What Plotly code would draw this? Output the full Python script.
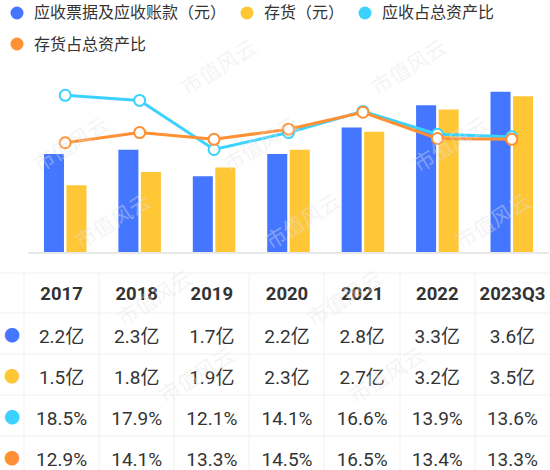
import plotly.graph_objects as go

categories = ["2017", "2018", "2019", "2020", "2021", "2022", "2023Q3"]
receivables = [2.2, 2.3, 1.7, 2.2, 2.8, 3.3, 3.6]      # 亿元
inventory = [1.5, 1.8, 1.9, 2.3, 2.7, 3.2, 3.5]        # 亿元
recv_ratio = [18.5, 17.9, 12.1, 14.1, 16.6, 13.9, 13.6]  # %
inv_ratio = [12.9, 14.1, 13.3, 14.5, 16.5, 13.4, 13.3]   # %

series_names = ["应收票据及应收账款（元）", "存货（元）", "应收占总资产比", "存货占总资产比"]
colors = ["#4576FF", "#FFC636", "#3CD2FF", "#FF9034"]
watermark = "市值风云"

W, H = 550, 470
FONT = "Roboto, 'Noto Sans CJK SC', sans-serif"
GRID = "#F0F0F0"

def py(px):  # pixel y (from top) to paper fraction
    return (H - px) / H

def px_(x):
    return x / W

fig = go.Figure()

fig.add_trace(go.Bar(x=categories, y=receivables, marker=dict(color=colors[0], line_width=0),
                     name=series_names[0], showlegend=False, hoverinfo="skip"))
fig.add_trace(go.Bar(x=categories, y=inventory, marker=dict(color=colors[1], line_width=0),
                     name=series_names[1], showlegend=False, hoverinfo="skip"))
fig.add_trace(go.Scatter(x=categories, y=recv_ratio, yaxis="y2", mode="lines+markers",
                         line=dict(color=colors[2], width=3),
                         marker=dict(size=11, color="white", line=dict(color=colors[2], width=2)),
                         name=series_names[2], showlegend=False, hoverinfo="skip"))
fig.add_trace(go.Scatter(x=categories, y=inv_ratio, yaxis="y2", mode="lines+markers",
                         line=dict(color=colors[3], width=3),
                         marker=dict(size=11, color="white", line=dict(color=colors[3], width=2)),
                         name=series_names[3], showlegend=False, hoverinfo="skip"))

# Table
def fmt_yi(v):
    return f"{v:.1f}亿"

def fmt_pct(v):
    return f"{v:.1f}%"

cols = [["●"] * 4]
for i in range(len(categories)):
    cols.append([fmt_yi(receivables[i]), fmt_yi(inventory[i]), fmt_pct(recv_ratio[i]), fmt_pct(inv_ratio[i])])

font_colors = [colors] + [["#333333"] * 4 for _ in categories]
font_sizes = [16] + [19] * len(categories)

TABLE_TOP = 275
fig.add_trace(go.Table(
    domain=dict(x=[0, 1], y=[0, py(TABLE_TOP)]),
    columnwidth=[24] + [75.14] * len(categories),
    header=dict(values=[""] + [f"<b>{c}</b>" for c in categories],
                height=46, align="center",
                fill_color="rgba(0,0,0,0)", line=dict(color="rgba(0,0,0,0)", width=0),
                font=dict(family=FONT, size=18.5, color="#333333")),
    cells=dict(values=cols, height=41, align="center",
               fill_color="rgba(0,0,0,0)", line=dict(color="rgba(0,0,0,0)", width=0),
               font=dict(family=FONT, size=font_sizes, color=font_colors)),
))

shapes = []
# table grid lines (decoration)
for yl in [273, 313, 354, 395, 436]:
    shapes.append(dict(type="line", xref="paper", yref="paper", x0=0, x1=1,
                       y0=py(yl), y1=py(yl), line=dict(color=GRID, width=1), layer="below"))
for xl in [24, 99, 174, 249, 324, 400, 475]:
    shapes.append(dict(type="line", xref="paper", yref="paper", x0=px_(xl), x1=px_(xl),
                       y0=py(273), y1=0, line=dict(color=GRID, width=1), layer="below"))

annotations = []
# faint diagonal watermark tiling (kept inside the page)
for j in range(6):
    yc = 66 + 77 * j
    if not (60 <= yc <= 430):
        continue
    for i in range(-1, 4):
        xc = (28 + 42 * j) % 190 + 190 * i
        if 50 <= xc <= 500:
            annotations.append(dict(x=px_(xc), y=py(yc), xref="paper", yref="paper",
                                    text=watermark, showarrow=False, textangle=-32,
                                    xanchor="center", yanchor="middle",
                                    font=dict(family="'Noto Sans CJK SC', sans-serif", size=21,
                                              color="rgba(228,228,228,0.4)")))

# Manual legend
legend_pos = [(17, 13, 32), (247, 13, 262), (365, 13, 380), (17, 44, 32)]
for (cx, cy, tx), name, col in zip(legend_pos, series_names, colors):
    r = 6.5
    shapes.append(dict(type="circle", xref="paper", yref="paper",
                       x0=px_(cx - r), x1=px_(cx + r), y0=py(cy + r), y1=py(cy - r),
                       fillcolor=col, line=dict(width=0)))
    annotations.append(dict(x=px_(tx), y=py(cy), xref="paper", yref="paper", text=name,
                            showarrow=False, xanchor="left", yanchor="middle",
                            font=dict(family=FONT, size=16, color="#333333")))

fig.update_layout(
    width=W, height=H,
    margin=dict(l=0, r=0, t=0, b=0),
    paper_bgcolor="white", plot_bgcolor="white",
    barmode="group", bargap=0.395, bargroupgap=0.11,
    showlegend=False,
    hovermode=False,
    xaxis=dict(domain=[px_(28), px_(549)], showticklabels=False, showgrid=False,
               showline=True, linecolor="#E8E8E8", linewidth=1.5, zeroline=False,
               anchor="y", ticks=""),
    yaxis=dict(domain=[py(252), py(70)], range=[0, 182 / 44.5], showticklabels=False,
               showgrid=False, zeroline=False),
    yaxis2=dict(overlaying="y", range=[0, 182 / 8.47], showticklabels=False,
                showgrid=False, zeroline=False),
    shapes=shapes,
    annotations=annotations,
    font=dict(family=FONT),
)

fig.write_html("out.html", config={"displayModeBar": False},
               post_script="document.body.style.margin='0px';")
